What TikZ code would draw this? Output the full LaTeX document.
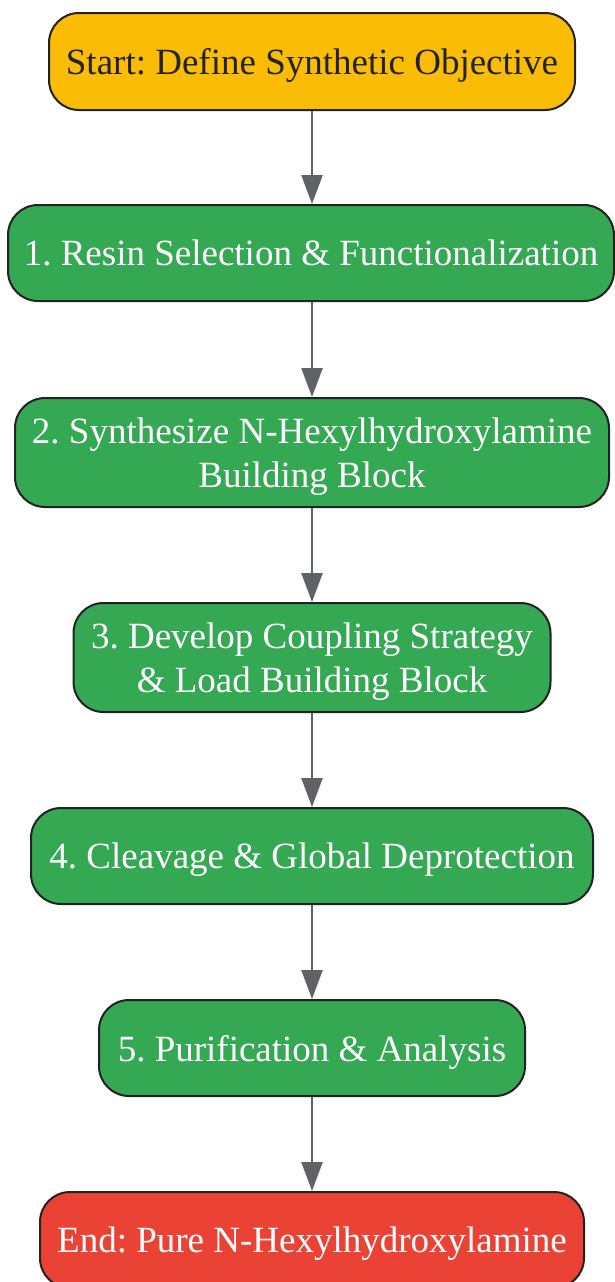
\documentclass[tikz,border=0pt]{standalone}
\usepackage{fontspec}
\setmainfont{Liberation Serif}
\usetikzlibrary{arrows.meta}
\definecolor{startc}{HTML}{FBBC05}
\definecolor{stepc}{HTML}{34A853}
\definecolor{endc}{HTML}{EA4335}
\definecolor{edgec}{HTML}{5F6368}
\definecolor{borderc}{HTML}{222222}
\tikzset{
  box/.style={draw=borderc, line width=2pt, rounded corners=30pt, align=center,
    inner sep=0pt, text depth=0pt, font=\fontsize{37}{44}\selectfont\frenchspacing},
  startbox/.style={box, fill=startc, text=borderc},
  stepbox/.style={box, fill=stepc, text=white},
  endbox/.style={box, fill=endc, text=white},
  flow/.style={draw=edgec, line width=2.5pt, -{Triangle[width=21pt,length=29pt]}}
}
\begin{document}
\begin{tikzpicture}[x=1pt,y=-1pt]
\useasboundingbox (0,0) rectangle (615,1282);
\node[startbox, minimum width=526pt, minimum height=97pt] (s) at (312,61.5) {Start: Define Synthetic Objective};
\node[stepbox, minimum width=606pt, minimum height=96pt] (a) at (311,253) {1. Resin Selection \& Functionalization};
\node[stepbox, minimum width=594pt, minimum height=109pt] (b) at (312,452.5) {2. Synthesize N-Hexylhydroxylamine\\Building Block};
\node[stepbox, minimum width=477pt, minimum height=109pt] (c) at (312,657.5) {3. Develop Coupling Strategy\\\& Load Building Block};
\node[stepbox, minimum width=562pt, minimum height=96pt] (d) at (312,856) {4. Cleavage \& Global Deprotection};
\node[stepbox, minimum width=426pt, minimum height=96pt] (e) at (312,1048) {5. Purification \& Analysis};
\node[endbox, minimum width=544pt, minimum height=96pt] (f) at (312,1240) {End: Pure N-Hexylhydroxylamine};
\draw[flow] (s.south) -- (s.south |- a.north);
\draw[flow] (s.south |- a.south) -- (b.north);
\draw[flow] (b.south) -- (c.north);
\draw[flow] (c.south) -- (d.north);
\draw[flow] (d.south) -- (e.north);
\draw[flow] (e.south) -- (f.north);
\end{tikzpicture}
\end{document}
